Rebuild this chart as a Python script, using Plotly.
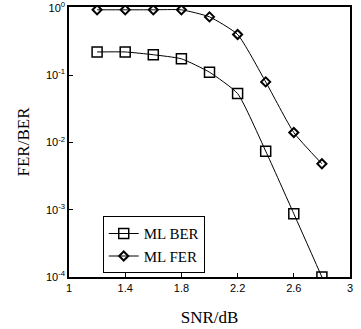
import plotly.graph_objects as go

snr = [1.2, 1.4, 1.6, 1.8, 2.0, 2.2, 2.4, 2.6, 2.8]
ml_ber = [0.22, 0.22, 0.20, 0.174, 0.11, 0.053, 0.0074, 0.00087, 0.0001]
ml_fer = [0.93, 0.93, 0.93, 0.93, 0.73, 0.40, 0.079, 0.014, 0.0048]
ytick_vals = [1e-4, 1e-3, 1e-2, 1e-1, 1]
ytick_text = ["10<sup>-4</sup>", "10<sup>-3</sup>", "10<sup>-2</sup>", "10<sup>-1</sup>", "10<sup>0</sup>"]
xtick_vals = [1, 1.4, 1.8, 2.2, 2.6, 3]
xtick_text = ["1", "1.4", "1.8", "2.2", "2.6", "3"]

fig = go.Figure()
fig.add_trace(go.Scatter(
    x=snr, y=ml_ber, name="ML BER", mode="lines+markers",
    line=dict(color="black", width=1, shape="spline", smoothing=0.5),
    marker=dict(symbol="square-open", size=10, color="black", line=dict(width=1.5)),
))
fig.add_trace(go.Scatter(
    x=snr, y=ml_fer, name="ML FER", mode="lines+markers",
    line=dict(color="black", width=1, shape="spline", smoothing=0.5),
    marker=dict(symbol="diamond-open", size=7, color="black", line=dict(width=2)),
))

fig.update_layout(
    width=361, height=329,
    margin=dict(l=69, r=11, t=7, b=52),
    paper_bgcolor="white", plot_bgcolor="white",
    showlegend=True,
    legend=dict(
        x=0.12, y=0.225, xanchor="left", yanchor="top",
        bgcolor="white", bordercolor="black", borderwidth=1,
        font=dict(family="Liberation Serif", size=15, color="black"),
        itemwidth=30, tracegroupgap=0,
    ),
    font=dict(family="Liberation Sans", size=11, color="black"),
)
fig.update_xaxes(
    range=[1, 3], tickvals=xtick_vals, ticktext=xtick_text, automargin=False,
    showline=True, linecolor="black", linewidth=1.5, mirror=True,
    ticks="inside", ticklen=4, tickcolor="black", showgrid=False, zeroline=False,
    title=dict(text="SNR/dB", font=dict(family="Liberation Serif", size=17, color="black"), standoff=18),
)
fig.update_yaxes(
    type="log", range=[-4, 0.01], tickvals=ytick_vals, ticktext=ytick_text, automargin=False,
    ticklabeloverflow="allow",
    showline=True, linecolor="black", linewidth=1.5, mirror=True,
    ticks="inside", ticklen=4, tickcolor="black", showgrid=False, zeroline=False,
    title=dict(text="FER/BER", font=dict(family="Liberation Serif", size=17, color="black"), standoff=12),
)

fig.write_html(
    "out.html",
    config={"displayModeBar": False},
    post_script="document.body.style.margin='0';document.body.style.padding='0';document.body.style.overflow='hidden';",
)
